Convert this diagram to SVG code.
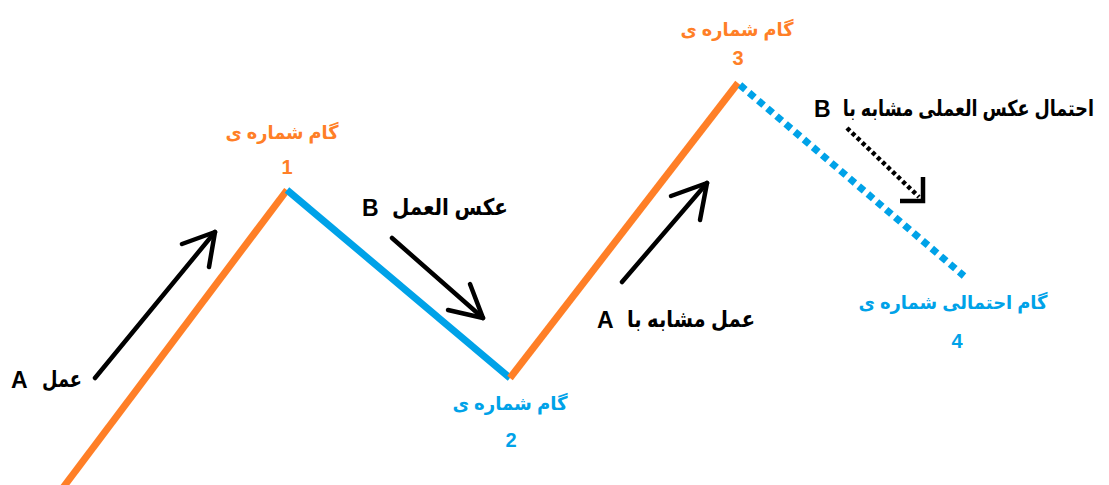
<svg xmlns="http://www.w3.org/2000/svg" width="1109" height="485" viewBox="0 0 1109 485">
<style>
.or{stroke:#FF7F27;stroke-width:7;fill:none}
.bl{stroke:#00A2E8;stroke-width:7;fill:none}
.bld{stroke:#00A2E8;stroke-width:7;fill:none;stroke-dasharray:7 5}
.ar{stroke:#000;stroke-width:4.5;fill:none;stroke-linecap:round;stroke-linejoin:round}
.ard{stroke:#000;stroke-width:4.5;fill:none;stroke-dasharray:4 3}
text{font-family:"Liberation Sans","DejaVu Sans",sans-serif;font-weight:bold}
.to{fill:#FF7F27;font-size:19px;text-anchor:middle}
.tb{fill:#00A2E8;font-size:19px;text-anchor:middle}
.no{fill:#FF7F27;font-size:20px;text-anchor:middle}
.nb{fill:#00A2E8;font-size:20px;text-anchor:middle}
.lt{fill:#000;font-size:23px}
.ak{fill:#000;font-size:23px;text-anchor:end}
</style>
<rect width="1109" height="485" fill="#fff"/>
<g id="connectors">
<line class="or" x1="62" y1="489" x2="287" y2="190"/>
<line class="bl" x1="287" y1="190" x2="510" y2="378"/>
<line class="or" x1="510" y1="378" x2="738" y2="83"/>
<line class="bld" x1="740" y1="85" x2="964" y2="276"/>
<polyline class="ar" points="95,378 215,232"/>
<polyline class="ar" points="182,244 215,232 209,267"/>
<polyline class="ar" points="392,238 483,318"/>
<polyline class="ar" points="470,284 483,318 448,310"/>
<polyline class="ar" points="622,282 707,183"/>
<polyline class="ar" points="671,196 707,183 700,220"/>
<line class="ard" x1="847" y1="128" x2="919" y2="197"/>
<polyline class="ar" style="stroke-linecap:butt;stroke-linejoin:miter" points="923,177 923,201 900,201"/>
</g>
<g id="node1">
<text class="to" x="282" y="139" textLength="113" lengthAdjust="spacingAndGlyphs">گام شماره ی</text>
<text class="no" x="287" y="174">1</text>
</g>
<g id="node2">
<text class="tb" x="510" y="410" textLength="115" lengthAdjust="spacingAndGlyphs">گام شماره ی</text>
<text class="nb" x="511" y="447">2</text>
</g>
<g id="node3">
<text class="to" x="737" y="36" textLength="113" lengthAdjust="spacingAndGlyphs">گام شماره ی</text>
<text class="no" x="738" y="65">3</text>
</g>
<g id="node4">
<text class="tb" x="953" y="309" textLength="189" lengthAdjust="spacingAndGlyphs">گام احتمالی شماره ی</text>
<text class="nb" x="957" y="348">4</text>
</g>
<g id="labelA">
<text class="lt" x="11" y="388">A</text>
<text class="ak" x="82" y="387" textLength="40" lengthAdjust="spacingAndGlyphs">عمل</text>
</g>
<g id="labelB">
<text class="lt" x="362" y="216">B</text>
<text class="ak" x="508" y="215" textLength="116" lengthAdjust="spacingAndGlyphs">عکس العمل</text>
</g>
<g id="labelA2">
<text class="lt" x="597" y="328">A</text>
<text class="ak" x="755" y="327" textLength="128" lengthAdjust="spacingAndGlyphs">عمل مشابه با</text>
</g>
<g id="labelB2">
<text class="lt" x="814" y="117">B</text>
<text class="ak" x="0" y="0" style="font-size:22px" transform="translate(1094,116) scale(0.8,1)">احتمال عکس العملی مشابه با</text>
</g>
</svg>
